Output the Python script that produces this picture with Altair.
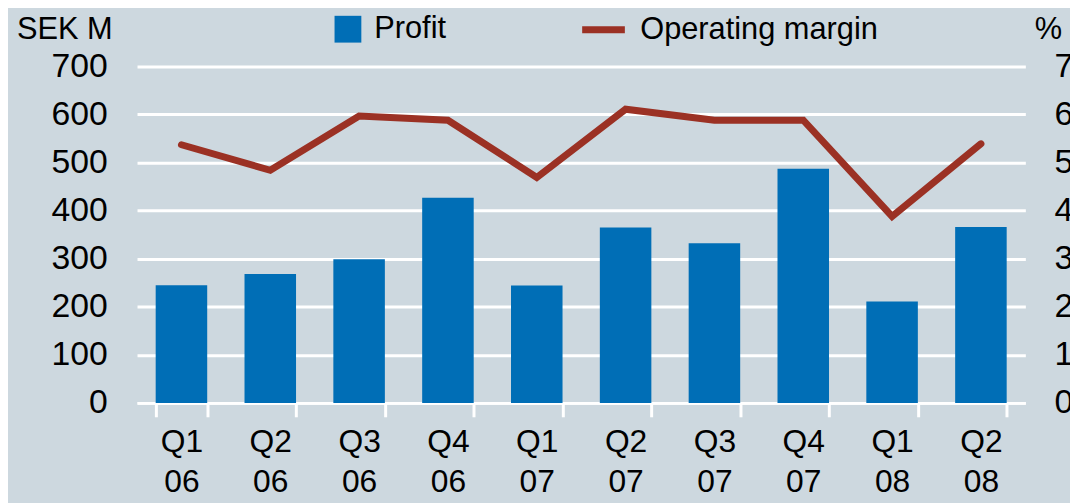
import altair as alt
import pandas as pd

quarters = ["Q1 06", "Q2 06", "Q3 06", "Q4 06", "Q1 07", "Q2 07", "Q3 07", "Q4 07", "Q1 08", "Q2 08"]
profit = [245, 268, 299, 427, 244, 365, 332, 487, 211, 366]
margin = [5.37, 4.84, 5.97, 5.88, 4.69, 6.11, 5.88, 5.88, 3.88, 5.39]
legend_labels = ["Profit", "Operating margin"]
left_ticks = [0, 100, 200, 300, 400, 500, 600, 700]
right_ticks = [0, 1, 2, 3, 4, 5, 6, 7]

FONT = "Liberation Sans"
BG = "#cdd8df"
BLUE = "#006eb6"
RED = "#9b3124"

df = pd.DataFrame({
    "quarter": quarters,
    "profit": profit,
    "margin": margin,
    "bar_series": [legend_labels[0]] * len(quarters),
    "line_series": [legend_labels[1]] * len(quarters),
})

x = alt.X(
    "quarter:N",
    sort=quarters,
    scale=alt.Scale(paddingInner=0.42, paddingOuter=0.21),
    axis=alt.Axis(
        title=None, labelAngle=0, labelExpr="split(datum.label, ' ')",
        labelFontSize=32, labelLineHeight=40, labelPadding=10, labelFont=FONT,
        labelColor="black", tickBand="extent", ticks=True, tickSize=14,
        tickWidth=3, tickColor="white", domainColor="white", domainWidth=3,
        grid=False,
    ),
)

bars = alt.Chart(df).mark_bar().encode(
    x=x,
    y=alt.Y(
        "profit:Q",
        scale=alt.Scale(domain=[0, 700]),
        axis=alt.Axis(
            orient="left", values=left_ticks, title="SEK M", titleAngle=0,
            titleAlign="right", titleBaseline="alphabetic", titleX=-25, titleY=-28,
            titleFontSize=31, titleFont=FONT, titleFontWeight="normal", titleColor="black",
            labelFontSize=34, labelFont=FONT, labelColor="black", labelPadding=30,
            ticks=False, domain=False, grid=True, gridColor="white", gridWidth=3,
        ),
    ),
    fill=alt.Fill(
        "bar_series:N",
        scale=alt.Scale(domain=[legend_labels[0]], range=[BLUE]),
        legend=alt.Legend(
            title=None, orient="none", legendX=197, legendY=-53, symbolType="square",
            symbolSize=729, symbolStrokeWidth=0, symbolOffset=0, padding=0,
            labelFontSize=31, labelFont=FONT, labelColor="black", labelOffset=11,
            labelLimit=400,
        ),
    ),
)

line = alt.Chart(df).mark_line(strokeWidth=7, strokeCap="round").encode(
    x=x,
    y=alt.Y(
        "margin:Q",
        scale=alt.Scale(domain=[0, 7]),
        axis=alt.Axis(
            orient="right", values=right_ticks, title="%", titleAngle=0,
            titleAlign="left", titleBaseline="alphabetic", titleX=9, titleY=-28,
            titleFontSize=31, titleFont=FONT, titleFontWeight="normal", titleColor="black",
            labelFontSize=34, labelFont=FONT, labelColor="black", labelPadding=29,
            ticks=False, domain=False, grid=False,
        ),
    ),
    stroke=alt.Stroke(
        "line_series:N",
        scale=alt.Scale(domain=[legend_labels[1]], range=[RED]),
        legend=alt.Legend(
            title=None, orient="none", legendX=445, legendY=-62, symbolType="stroke",
            symbolSize=1849, symbolStrokeWidth=7, symbolOffset=0, padding=0,
            labelFontSize=31, labelFont=FONT, labelColor="black", labelOffset=12,
            labelLimit=400,
        ),
    ),
)

chart = (
    alt.layer(bars, line)
    .resolve_scale(y="independent")
    .properties(
        width=895, height=339,
        autosize=alt.AutoSizeParams(type="none"),
        padding={"left": 130, "top": 57, "right": 45, "bottom": 99},
        background=BG,
    )
    .configure_view(stroke=None)
)

chart.save("out.html", embed_options={"renderer": "svg", "actions": False})
